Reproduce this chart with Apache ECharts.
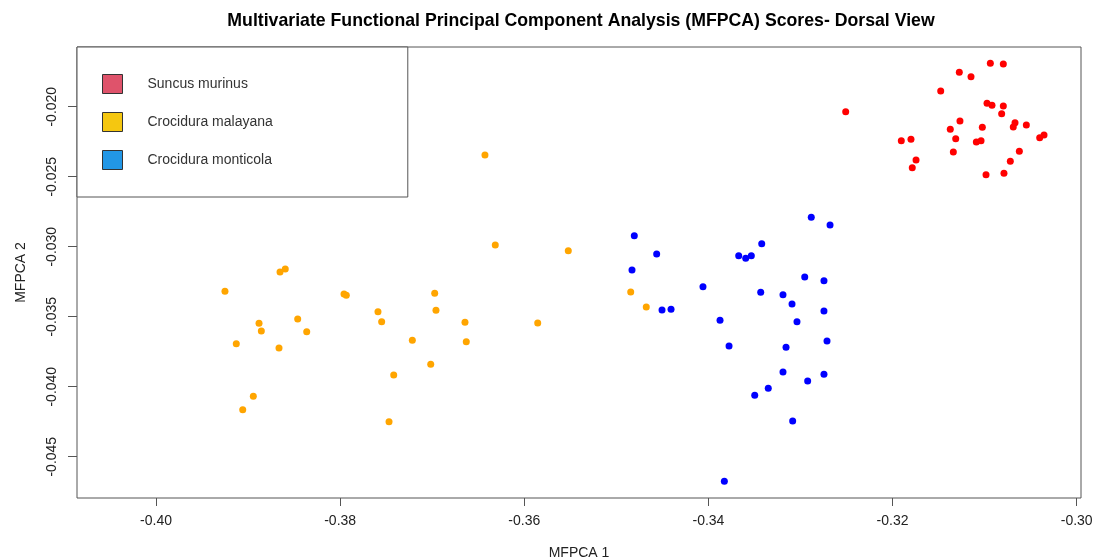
<!DOCTYPE html>
<html>
<head>
<meta charset="utf-8">
<script src="https://cdn.jsdelivr.net/npm/echarts@6/dist/echarts.min.js"></script>
<style>html,body{margin:0;padding:0;background:#fff}#c{width:1099px;height:559px}</style>
</head>
<body>
<div id="c"></div>
<script>
// ---- data (MFPCA 1, MFPCA 2) ----
const speciesNames = ['Suncus murinus', 'Crocidura malayana', 'Crocidura monticola'];
const suncusMurinus = [
  [-0.30938,-0.01690],[-0.30797,-0.01695],[-0.31275,-0.01754],[-0.31148,-0.01786],[-0.31477,-0.01888],
  [-0.32509,-0.02036],[-0.30974,-0.01976],[-0.30920,-0.01990],[-0.30797,-0.01995],[-0.30815,-0.02050],
  [-0.31268,-0.02102],[-0.31373,-0.02161],[-0.31025,-0.02147],[-0.30670,-0.02114],[-0.30689,-0.02145],
  [-0.30547,-0.02131],[-0.31314,-0.02229],[-0.31090,-0.02252],[-0.31039,-0.02243],[-0.31905,-0.02243],
  [-0.31800,-0.02233],[-0.30402,-0.02221],[-0.30355,-0.02202],[-0.31340,-0.02324],[-0.30623,-0.02319],
  [-0.30721,-0.02390],[-0.31745,-0.02381],[-0.31786,-0.02436],[-0.30985,-0.02486],[-0.30790,-0.02476]
];
const crociduraMalayana = [
  [-0.36315,-0.02988],[-0.35522,-0.03029],[-0.38653,-0.03181],[-0.38596,-0.03159],[-0.39251,-0.03319],
  [-0.37958,-0.03338],[-0.37933,-0.03347],[-0.36973,-0.03333],[-0.37589,-0.03464],[-0.36959,-0.03454],
  [-0.37549,-0.03536],[-0.36644,-0.03540],[-0.35854,-0.03545],[-0.38881,-0.03547],[-0.38461,-0.03516],
  [-0.38856,-0.03602],[-0.38363,-0.03607],[-0.39128,-0.03693],[-0.38664,-0.03724],[-0.37216,-0.03669],
  [-0.36630,-0.03679],[-0.37016,-0.03840],[-0.37418,-0.03916],[-0.38943,-0.04069],[-0.39058,-0.04164],
  [-0.37469,-0.04250],[-0.36427,-0.02345],[-0.34844,-0.03324],[-0.34675,-0.03431]
];
const crociduraMonticola = [
  [-0.32883,-0.02790],[-0.32679,-0.02845],[-0.34805,-0.02921],[-0.34562,-0.03052],[-0.33421,-0.02979],
  [-0.33671,-0.03064],[-0.33595,-0.03083],[-0.33534,-0.03064],[-0.34830,-0.03166],[-0.34059,-0.03286],
  [-0.32954,-0.03216],[-0.32745,-0.03243],[-0.33432,-0.03326],[-0.33190,-0.03343],[-0.33092,-0.03409],
  [-0.34504,-0.03452],[-0.34406,-0.03447],[-0.32745,-0.03459],[-0.33874,-0.03526],[-0.33038,-0.03536],
  [-0.33776,-0.03709],[-0.33157,-0.03719],[-0.32712,-0.03674],[-0.33190,-0.03895],[-0.32922,-0.03959],
  [-0.32745,-0.03911],[-0.33350,-0.04011],[-0.33497,-0.04061],[-0.33085,-0.04245],[-0.33827,-0.04676]
];
const xTicks = [-0.40, -0.38, -0.36, -0.34, -0.32, -0.30];
const yTicks = [-0.045, -0.040, -0.035, -0.030, -0.025, -0.020];
const pointColors = ['#FF0000', '#FFA500', '#0000FF'];
const legendColors = ['#DF536B', '#F5C710', '#2297E6'];

const FONT = '"Liberation Sans", Arial, Helvetica, sans-serif';
const chart = echarts.init(document.getElementById('c'), null, {renderer: 'canvas'});
const seriesData = [suncusMurinus, crociduraMalayana, crociduraMonticola];

chart.setOption({
  animation: false,
  backgroundColor: '#ffffff',
  title: {
    text: 'Multivariate Functional Principal Component Analysis (MFPCA) Scores- Dorsal View',
    left: 576, top: 7, textAlign: 'center',
    textStyle: {fontFamily: FONT, fontWeight: 'bold', fontSize: 17.7, color: '#000'}
  },
  grid: {left: 77, top: 47, width: 1004, height: 451, outerBoundsMode: 'none', containLabel: false,
         show: true, borderColor: '#555', borderWidth: 1, backgroundColor: 'transparent'},
  legend: {
    orient: 'vertical', left: 77, top: 47,
    padding: [27, 135, 27, 25],
    itemWidth: 20, itemHeight: 19, itemGap: 18,
    backgroundColor: '#ffffff', borderColor: '#555', borderWidth: 1,
    selectedMode: false,
    icon: 'rect',
    textStyle: {fontFamily: FONT, fontSize: 14, color: '#333', padding: [0, 0, 0, 20]},
    data: speciesNames.map((n, i) => ({name: n, itemStyle: {color: legendColors[i], borderColor: '#333', borderWidth: 1}}))
  },
  xAxis: {
    type: 'value', min: -0.408580, max: -0.299533,
    name: 'MFPCA 1', nameLocation: 'middle', nameGap: 48,
    nameTextStyle: {fontFamily: FONT, fontSize: 14, color: '#222'},
    axisLine: {show: false},
    axisTick: {show: true, length: 8, customValues: xTicks, lineStyle: {color: '#555'}},
    axisLabel: {customValues: xTicks, margin: 16, fontFamily: FONT, fontSize: 14, color: '#222', formatter: v => v.toFixed(2)},
    splitLine: {show: false}
  },
  yAxis: {
    type: 'value', min: -0.047950, max: -0.015736,
    name: 'MFPCA 2', nameLocation: 'middle', nameGap: 49,
    nameTextStyle: {fontFamily: FONT, fontSize: 14, color: '#222'},
    axisLine: {show: false},
    axisTick: {show: true, length: 9, customValues: yTicks, lineStyle: {color: '#555'}},
    axisLabel: {customValues: yTicks, rotate: 90, margin: 18, fontFamily: FONT, fontSize: 14, color: '#222', formatter: v => v.toFixed(3)},
    splitLine: {show: false}
  },
  series: speciesNames.map((n, i) => ({
    name: n, type: 'scatter', symbol: 'circle', symbolSize: 7,
    itemStyle: {color: pointColors[i], opacity: 1},
    data: seriesData[i]
  }))
});
</script>
</body>
</html>
